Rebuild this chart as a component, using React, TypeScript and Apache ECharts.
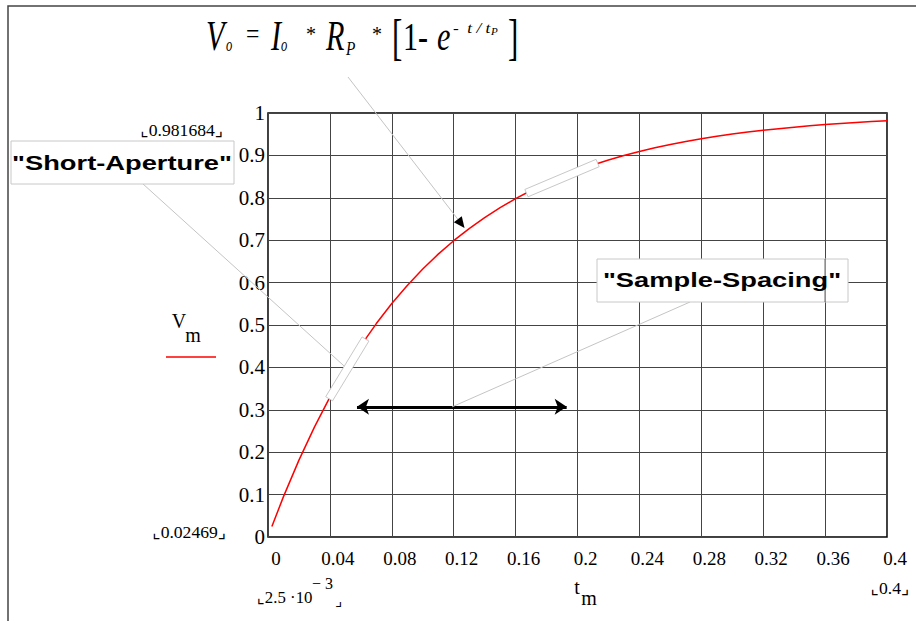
import React, { useEffect, useRef } from "react";
import * as echarts from "echarts";

// ---- data ----
const tValues = [0.0025, 0.01, 0.02, 0.03, 0.04, 0.05, 0.06, 0.07, 0.08, 0.09, 0.1, 0.11, 0.12, 0.13, 0.14, 0.15, 0.16, 0.17, 0.18, 0.19, 0.2, 0.21, 0.22, 0.23, 0.24, 0.25, 0.26, 0.27, 0.28, 0.29, 0.3, 0.31, 0.32, 0.33, 0.34, 0.35, 0.36, 0.37, 0.38, 0.39, 0.4];
const vValues = [0.0247, 0.0952, 0.1813, 0.2592, 0.3297, 0.3935, 0.4512, 0.5034, 0.5507, 0.5934, 0.6321, 0.6671, 0.6988, 0.7275, 0.7534, 0.7769, 0.7981, 0.8173, 0.8347, 0.8504, 0.8647, 0.8775, 0.8892, 0.8997, 0.9093, 0.9179, 0.9257, 0.9328, 0.9392, 0.945, 0.9502, 0.955, 0.9592, 0.9631, 0.9666, 0.9698, 0.9727, 0.9753, 0.9776, 0.9798, 0.9817];
const xTickLabels = ["0", "0.04", "0.08", "0.12", "0.16", "0.2", "0.24", "0.28", "0.32", "0.36", "0.4"];
const yTickLabels = ["0", "0.1", "0.2", "0.3", "0.4", "0.5", "0.6", "0.7", "0.8", "0.9", "1"];
const yLimitTop = "0.981684";
const yLimitBottom = "0.02469";
const xLimitLeftMantissa = "2.5 ·10";
const xLimitLeftExponent = "− 3";
const xLimitRight = "0.4";
const shortApertureSpan = [[0.0395, 0.326], [0.063, 0.467]];
const sampleSpacingSpan = [[0.167, 0.811], [0.213, 0.882]];
const spacingArrow = [[0.0575, 0.307], [0.193, 0.307]];
const spacingCalloutTarget = [0.119, 0.307];
const formulaArrowTip = [0.127, 0.729];

const SERIF = "'Liberation Serif', 'Times New Roman', 'DejaVu Sans', serif";
const SANS = "'Liberation Sans', Arial, sans-serif";

function T(text: string, x: number, y: number, o: any = {}) {
  return {
    type: "text",
    x,
    y,
    scaleX: o.scaleX ?? 1,
    scaleY: o.scaleY ?? 1,
    z: o.z ?? 120,
    silent: true,
    style: {
      text,
      fill: o.fill ?? "#000",
      fontSize: o.fontSize ?? 16,
      fontFamily: o.fontFamily ?? SERIF,
      fontStyle: o.fontStyle ?? "normal",
      fontWeight: o.fontWeight ?? "normal",
      align: o.align ?? "left",
      textAlign: o.align ?? "left",
      verticalAlign: "middle",
      textVerticalAlign: "middle",
    },
  };
}

function band(a: number[], b: number[], half: number) {
  const dx = b[0] - a[0];
  const dy = b[1] - a[1];
  const L = Math.hypot(dx, dy);
  const nx = (-dy / L) * half;
  const ny = (dx / L) * half;
  return [
    [a[0] + nx, a[1] + ny],
    [b[0] + nx, b[1] + ny],
    [b[0] - nx, b[1] - ny],
    [a[0] - nx, a[1] - ny],
  ];
}

export default function App() {
  const ref = useRef<HTMLDivElement>(null);
  useEffect(() => {
    const chart = echarts.init(ref.current!, null, { renderer: "svg" });
    chart.setOption({
      animation: false,
      backgroundColor: "#fff",
      grid: {
        left: 268,
        top: 113,
        width: 619,
        height: 424,
        show: true,
        borderColor: "#000",
        borderWidth: 1.5,
        backgroundColor: "transparent",
      },
      xAxis: {
        type: "value",
        min: 0,
        max: 0.4,
        interval: 0.04,
        axisLine: { show: false },
        axisTick: { show: false },
        splitLine: { show: true, lineStyle: { color: "#444", width: 1 } },
        axisLabel: {
          formatter: (v: number) => xTickLabels[Math.round(v / 0.04)] ?? "",
          fontFamily: SERIF,
          fontSize: 19,
          color: "#000",
          margin: 12,
          padding: [0, 0, 0, 16],
        },
      },
      yAxis: {
        type: "value",
        min: 0,
        max: 1,
        interval: 0.1,
        axisLine: { show: false },
        axisTick: { show: false },
        splitLine: { show: true, lineStyle: { color: "#444", width: 1 } },
        axisLabel: {
          formatter: (v: number) => yTickLabels[Math.round(v / 0.1)] ?? "",
          fontFamily: SERIF,
          fontSize: 21,
          color: "#000",
          margin: 3,
          padding: [8, 0, 0, 0],
        },
      },
      series: [
        {
          type: "line",
          data: tValues.map((t, i) => [t, vValues[i]]),
          showSymbol: false,
          lineStyle: { color: "#ff0000", width: 1.5 },
          z: 3,
          markLine: {
            silent: true,
            animation: false,
            symbol: ["arrow", "arrow"],
            symbolSize: 12,
            label: { show: false },
            lineStyle: { color: "#000", width: 3, type: "solid" },
            data: [[{ coord: spacingArrow[0] }, { coord: spacingArrow[1] }]],
          },
        },
      ],
    });

    const px = (p: number[]) => chart.convertToPixel({ gridIndex: 0 }, p) as number[];
    const sa1 = px(shortApertureSpan[0]);
    const sa2 = px(shortApertureSpan[1]);
    const ss1 = px(sampleSpacingSpan[0]);
    const ss2 = px(sampleSpacingSpan[1]);
    const saMid = [(sa1[0] + sa2[0]) / 2, (sa1[1] + sa2[1]) / 2];
    const ctarget = px(spacingCalloutTarget);
    const tip = px(formulaArrowTip);
    const fStart = [348, 77];
    const dx = tip[0] - fStart[0];
    const dy = tip[1] - fStart[1];
    const L = Math.hypot(dx, dy);
    const ux = dx / L;
    const uy = dy / L;
    const baseC = [tip[0] - ux * 11, tip[1] - uy * 11];
    const gx36 = px([0.36, 0])[0];

    const calloutStyle = { stroke: "#c4c4c4", lineWidth: 1 };
    const boxStyle = { fill: "#fff", stroke: "#c8c8c8", lineWidth: 1 };
    const it = { fontStyle: "italic" };

    const elements: any[] = [
      // outer frame
      {
        type: "polyline",
        z: 50,
        silent: true,
        shape: { points: [[8, 621], [8, 6], [916, 6]] },
        style: { stroke: "#444", lineWidth: 1.5, fill: null },
      },
      // callout lines
      { type: "line", z: 90, silent: true, shape: { x1: 132, y1: 174, x2: saMid[0], y2: saMid[1] }, style: calloutStyle },
      { type: "line", z: 90, silent: true, shape: { x1: 690, y1: 302, x2: ctarget[0], y2: ctarget[1] }, style: calloutStyle },
      { type: "line", z: 90, silent: true, shape: { x1: fStart[0], y1: fStart[1], x2: baseC[0], y2: baseC[1] }, style: calloutStyle },
      {
        type: "polygon",
        z: 95,
        silent: true,
        shape: {
          points: [
            [tip[0], tip[1]],
            [baseC[0] - uy * 5, baseC[1] + ux * 5],
            [baseC[0] + uy * 5, baseC[1] - ux * 5],
          ],
        },
        style: { fill: "#000" },
      },
      // rotated bands covering the curve
      { type: "polygon", z: 100, silent: true, shape: { points: band(sa1, sa2, 4) }, style: boxStyle },
      { type: "polygon", z: 100, silent: true, shape: { points: band(ss1, ss2, 4) }, style: boxStyle },
      // annotation boxes
      { type: "rect", z: 100, silent: true, shape: { x: 11, y: 141, width: 223, height: 43 }, style: boxStyle },
      { type: "rect", z: 100, silent: true, shape: { x: 597, y: 259, width: 251, height: 43 }, style: boxStyle },
      { type: "line", z: 110, silent: true, shape: { x1: gx36, y1: 259, x2: gx36, y2: 302 }, style: { stroke: "#444", lineWidth: 1 } },
      T('"Short-Aperture"', 122, 163, { fontFamily: SANS, fontWeight: "bold", fontSize: 21, align: "center", scaleX: 1.3 }),
      T('"Sample-Spacing"', 722, 280, { fontFamily: SANS, fontWeight: "bold", fontSize: 21, align: "center", scaleX: 1.3 }),
      // limit labels
      T("⌞" + yLimitTop + "⌟", 223, 131, { fontSize: 16, align: "right", scaleX: 1.1 }),
      T("⌞" + yLimitBottom + "⌟", 226, 533, { fontSize: 16, align: "right", scaleX: 1.1 }),
      T("⌞" + xLimitLeftMantissa, 257, 598, { fontSize: 16, scaleX: 1.05 }),
      T(xLimitLeftExponent, 312, 583, { fontSize: 16 }),
      T("⌟", 335, 601, { fontSize: 15 }),
      T("⌞" + xLimitRight + "⌟", 890, 589, { fontSize: 16, align: "center", scaleX: 1.1 }),
      // axis name
      T("t", 577, 587, { fontSize: 20, align: "center" }),
      T("m", 589, 598, { fontSize: 20, align: "center" }),
      // legend
      T("V", 179, 321, { fontSize: 20, align: "center" }),
      T("m", 193, 335, { fontSize: 20, align: "center" }),
      { type: "line", z: 110, silent: true, shape: { x1: 166, y1: 357, x2: 216, y2: 357 }, style: { stroke: "#ff0000", lineWidth: 1.5 } },
      // formula
      T("V", 206, 36, { ...it, fontSize: 42, scaleX: 0.72 }),
      T("o", 226, 45, { ...it, fontSize: 18, scaleX: 0.7 }),
      T("=", 246, 34, { fontSize: 28, scaleX: 0.85 }),
      T("I", 271, 36, { ...it, fontSize: 42, scaleX: 0.72 }),
      T("o", 281, 45, { ...it, fontSize: 18, scaleX: 0.7 }),
      T("*", 306, 34, { fontSize: 20 }),
      T("R", 326, 36, { ...it, fontSize: 42, scaleX: 0.72 }),
      T("P", 346, 49, { ...it, fontSize: 18, scaleX: 0.85 }),
      T("*", 372, 34, { fontSize: 20 }),
      T("[", 392, 37, { fontSize: 50, scaleX: 0.62 }),
      T("1-", 403, 36, { fontSize: 40, scaleX: 0.75 }),
      T("e", 437, 36, { ...it, fontSize: 42, scaleX: 0.72 }),
      T("-  t / t", 453, 28, { ...it, fontSize: 15, scaleX: 1.15 }),
      T("P", 491, 31, { ...it, fontSize: 11 }),
      T("]", 508, 37, { fontSize: 50, scaleX: 0.62 }),
    ];
    chart.setOption({ graphic: elements });
    return () => chart.dispose();
  }, []);
  return <div ref={ref} style={{ position: "absolute", left: 0, top: 0, width: 916, height: 621 }} />;
}
